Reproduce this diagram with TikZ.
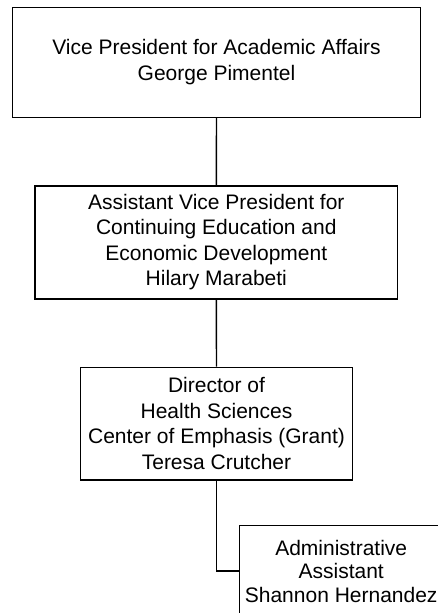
\documentclass[tikz,border=0pt]{standalone}
\usepackage{fontspec}
\setmainfont{Liberation Sans}
\begin{document}
\begin{tikzpicture}[x=1pt,y=-1pt,
  orgbox/.style={draw=black, line width=1.4pt, fill=white, align=center,
    inner sep=0pt, font=\fontsize{21}{25.5}\selectfont},
  link/.style={draw=black, line width=1.4pt}]
\useasboundingbox (0,0) rectangle (438,613);
\clip (0,0) rectangle (438,613);
\fill[white] (0,0) rectangle (438,613);
\node[orgbox, minimum width=408pt, minimum height=110pt] (b1) at (216.5,62.3)
  {Vice President for Academic Affairs\\George Pimentel};
\node[orgbox, minimum width=362.5pt, minimum height=113pt] (b2) at (216.3,242.3)
  {Assistant Vice President for\\Continuing Education and\\Economic Development\\Hilary Marabeti};
\node[orgbox, minimum width=272pt, minimum height=112.7pt] (b3) at (216.5,423.7)
  {Director of\\Health Sciences\\Center of Emphasis (Grant)\\Teresa Crutcher};
\node[orgbox, minimum width=204pt, minimum height=91pt,
  font=\fontsize{21}{23.5}\selectfont] (b4) at (341.2,571)
  {Administrative\\Assistant\\Shannon Hernandez};
\draw[link] (b1.south) -- (b2.north);
\draw[link] (b2.south) -- (b3.north);
\draw[link] (b3.south) |- (b4.west);
\end{tikzpicture}
\end{document}
